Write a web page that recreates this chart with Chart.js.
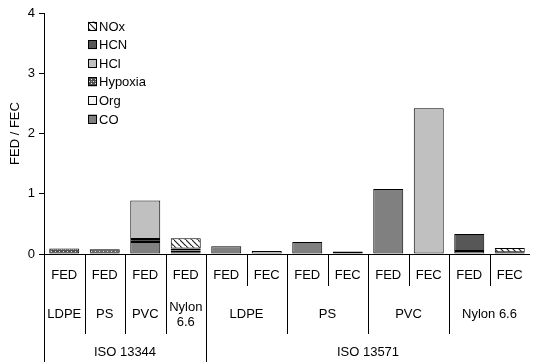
<!DOCTYPE html>
<html>
<head>
<meta charset="utf-8">
<script src="https://cdn.jsdelivr.net/npm/chart.js@4/dist/chart.umd.min.js"></script>
<style>
  html, body { margin: 0; padding: 0; background: #fff; }
  #wrap { width: 537px; height: 362px; }
</style>
</head>
<body>
<div id="wrap"><canvas id="c"></canvas></div>
<script>
// Category rows (bottom axis)
const metricLabels   = ['FED','FED','FED','FED','FED','FEC','FED','FEC','FED','FEC','FED','FEC'];
const materialLabels = ['LDPE','PS','PVC','Nylon 6.6','LDPE','PS','PVC','Nylon 6.6'];
const materialSpans  = [1, 1, 1, 1, 2, 2, 2, 2];
const standardLabels = ['ISO 13344','ISO 13571'];
const standardSpans  = [4, 8];

// Contributions per gas (stack order bottom -> top)
const coValues      = [0.01, 0.02, 0.20, 0.03, 0.13, null, 0.20, null, 1.08, null, 0.05, null];
const orgValues     = [null, null, null, null, null, 0.05, null, 0.04, null, null, null, 0.03];
const hypoxiaValues = [0.08, 0.06, 0.05, 0.03, null, null, null, null, null, null, null, null];
const hclValues     = [null, null, 0.64, null, null, null, null, null, null, 2.42, null, null];
const hcnValues     = [null, null, null, 0.03, null, null, null, null, null, null, 0.28, null];
const noxValues     = [null, null, null, 0.17, null, null, null, null, null, null, null, 0.07];

const yTicks = [0, 1, 2, 3, 4];

const FONT = '"Liberation Sans", Arial, sans-serif';

function makePattern(size, draw) {
  const c = document.createElement('canvas');
  c.width = size; c.height = size;
  const g = c.getContext('2d');
  draw(g, size);
  return g.createPattern(c, 'repeat');
}
const ctx = document.getElementById('c').getContext('2d');

const hypoxiaFill = makePattern(4, (g, s) => {
  g.fillStyle = '#505050'; g.fillRect(0, 0, s, s);
  g.fillStyle = '#e8e8e8'; g.fillRect(1, 1, 1, 1); g.fillRect(3, 3, 1, 1);
  g.fillStyle = '#a0a0a0'; g.fillRect(3, 1, 1, 1);
});
const noxFill = makePattern(6, (g, s) => {
  g.fillStyle = '#ffffff'; g.fillRect(0, 0, s, s);
  g.strokeStyle = '#222'; g.lineWidth = 1.2;
  g.beginPath(); g.moveTo(0, 0); g.lineTo(s, s); g.stroke();
  g.beginPath(); g.moveTo(-1, s - 1); g.lineTo(1, s + 1); g.stroke();
});

const series = [
  { label: 'CO',      data: coValues,      fill: '#808080' },
  { label: 'Org',     data: orgValues,     fill: '#f4f4f4' },
  { label: 'Hypoxia', data: hypoxiaValues, fill: hypoxiaFill },
  { label: 'HCl',     data: hclValues,     fill: '#c0c0c0' },
  { label: 'HCN',     data: hcnValues,     fill: '#575757' },
  { label: 'NOx',     data: noxValues,     fill: noxFill }
];

// Legend, category rows and separators
const decorations = {
  id: 'decorations',
  afterDraw(chart) {
    const g = chart.ctx;
    const x = chart.scales.x, area = chart.chartArea;
    const n = metricLabels.length;
    const step = x.getPixelForValue(1) - x.getPixelForValue(0);
    const edge = i => x.getPixelForValue(i) - step / 2;
    const bottom = area.bottom;
    g.save();
    g.strokeStyle = '#000'; g.lineWidth = 1;
    g.fillStyle = '#000';
    g.font = '13px ' + FONT;
    g.textAlign = 'center'; g.textBaseline = 'middle';

    // axis line
    g.beginPath(); g.moveTo(area.left, bottom + 0.5); g.lineTo(area.right, bottom + 0.5); g.stroke();

    const vline = (px, y2) => {
      const xx = Math.round(px) + 0.5;
      g.beginPath(); g.moveTo(xx, bottom); g.lineTo(xx, y2); g.stroke();
    };

    // metric row
    for (let i = 0; i < n; i++) {
      g.fillText(metricLabels[i], x.getPixelForValue(i), bottom + 21);
      if (i > 0) vline(edge(i), bottom + 32);
    }
    // material row
    let k = 0;
    materialLabels.forEach((lab, j) => {
      const span = materialSpans[j];
      const l = edge(k), r = edge(k + span);
      const cx = (l + r) / 2;
      if (g.measureText(lab).width > (r - l) - 4) {
        const parts = lab.split(' ');
        g.fillText(parts[0], cx, bottom + 53);
        g.fillText(parts.slice(1).join(' '), cx, bottom + 68);
      } else {
        g.fillText(lab, cx, bottom + 60);
      }
      if (k > 0) vline(l, bottom + 80);
      k += span;
    });
    // standard row
    k = 0;
    standardLabels.forEach((lab, j) => {
      const span = standardSpans[j];
      const l = edge(k), r = edge(k + span);
      g.fillText(lab, (l + r) / 2, bottom + 98);
      vline(l, chart.height);
      k += span;
    });

    // legend (top of stack first)
    const items = series.slice().reverse();
    const lx = 88, ly0 = 26, gap = 18.6, box = 9;
    g.textAlign = 'left';
    items.forEach((s, i) => {
      const cy = ly0 + i * gap;
      g.fillStyle = s.fill;
      g.fillRect(lx, cy - box / 2, box, box);
      g.strokeStyle = '#000';
      g.strokeRect(lx + 0.5, Math.round(cy - box / 2) + 0.5, box - 1, box - 1);
      g.fillStyle = '#000';
      g.fillText(s.label, lx + box + 2, cy + 1);
    });
    g.restore();
  }
};

new Chart(ctx, {
  type: 'bar',
  data: {
    labels: metricLabels,
    datasets: series.map(s => ({
      label: s.label,
      data: s.data,
      backgroundColor: s.fill,
      borderColor: '#000',
      borderWidth: 1,
      borderSkipped: false,
      barPercentage: 0.74,
      categoryPercentage: 1.0
    }))
  },
  options: {
    responsive: true,
    maintainAspectRatio: false,
    animation: false,
    layout: { padding: { top: 13, right: 7, bottom: 108, left: 0 } },
    plugins: { legend: { display: false }, tooltip: { enabled: false } },
    scales: {
      x: { stacked: true, display: false },
      y: {
        stacked: true,
        min: 0, max: 4,
        afterBuildTicks: s => { s.ticks = yTicks.map(v => ({ value: v })); },
        afterFit: s => { s.width = 44; },
        border: { display: true, color: '#000', width: 1 },
        grid: { drawOnChartArea: false, color: '#000', tickLength: 5 },
        ticks: { color: '#000', padding: 4, font: { family: FONT, size: 13 } },
        title: {
          display: true, text: 'FED / FEC', color: '#000',
          font: { family: FONT, size: 13 }, padding: { top: 8, bottom: 0 }
        }
      }
    }
  },
  plugins: [decorations]
});
</script>
</body>
</html>
